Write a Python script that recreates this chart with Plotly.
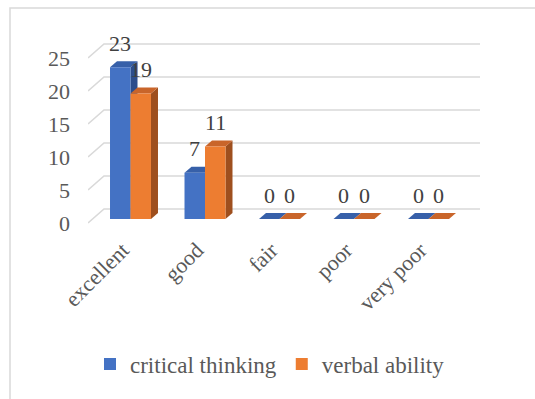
import plotly.graph_objects as go

# Survey results per rating level
categories = ["excellent", "good", "fair", "poor", "very poor"]
critical_thinking = [23, 7, 0, 0, 0]
verbal_ability = [19, 11, 0, 0, 0]
y_ticks = [0, 5, 10, 15, 20, 25]

series = [
    ("critical thinking", critical_thinking, "#4472C4", "#3760A9", "#2D4E8C"),
    ("verbal ability", verbal_ability, "#ED7D31", "#C9652A", "#9E4F1E"),
]

W, H = 535, 399
ML, MR, MT, MB = 88, 47, 30, 159
PX_PER_CAT = 74.5      # pixels per category step
PX_PER_UNIT = 6.6      # pixels per value unit
X0_PX = 130.5          # pixel position of the first category centre
Y0_PX = 219.0          # pixel position of value 0 on the bar fronts

x_range = [(ML - X0_PX) / PX_PER_CAT, (W - MR - X0_PX) / PX_PER_CAT]
y_range = [(Y0_PX - (H - MB)) / PX_PER_UNIT, (Y0_PX - MT) / PX_PER_UNIT]


def cx(px):
    return px / PX_PER_CAT


def cy(px):
    return px / PX_PER_UNIT


BAR_W = 0.275
DEPTH_X, DEPTH_Y = cx(7), cy(6)
FONT = "Liberation Serif"

fig = go.Figure()
shapes = []

# Back wall gridlines with the slanted floor edge on the left
for v in y_ticks:
    xf, yf = x_range[0], v - cy(4)
    xb, yb = x_range[0] + cx(16), v + cy(10)
    xe = x_range[1] - cx(8)
    shapes.append(dict(
        type="path", xref="x", yref="y", layer="below",
        path=f"M {xf},{yf} L {xb},{yb} L {xe},{yb}",
        line=dict(color="#D9D9D9", width=1.6),
    ))

# Bars (front faces) plus their top and side faces
for i, (name, vals, front, top, side) in enumerate(series):
    offset = (i - 0.5) * BAR_W
    xs = [k + offset for k in range(len(categories))]
    fig.add_trace(go.Bar(
        x=xs, y=vals, name=name, width=BAR_W,
        marker=dict(color=front, line=dict(width=0)),
        hoverinfo="x+y",
    ))
    for xc, v in zip(xs, vals):
        xl, xr = xc - BAR_W / 2, xc + BAR_W / 2
        shapes.append(dict(
            type="path", xref="x", yref="y", layer="between",
            path=(f"M {xr},0 L {xr},{v} L {xr + DEPTH_X},{v + DEPTH_Y} "
                  f"L {xr + DEPTH_X},{DEPTH_Y} Z"),
            fillcolor=side, line=dict(width=0),
        ))
        shapes.append(dict(
            type="path", xref="x", yref="y", layer="between",
            path=(f"M {xl},{v} L {xr},{v} L {xr + DEPTH_X},{v + DEPTH_Y} "
                  f"L {xl + DEPTH_X},{v + DEPTH_Y} Z"),
            fillcolor=top, line=dict(width=0),
        ))
        fig.add_annotation(
            x=xc, y=v, xref="x", yref="y", text=str(v), showarrow=False,
            yshift=24, yanchor="middle",
            font=dict(family=FONT, size=22, color="#404040"),
        )

# Outer chart frame
shapes.append(dict(
    type="rect", xref="paper", yref="paper", layer="below",
    x0=(10 - ML) / (W - ML - MR), x1=(W + 20 - ML) / (W - ML - MR),
    y0=((H - MB) - (H + 20)) / (H - MT - MB), y1=((H - MB) - 8) / (H - MT - MB),
    line=dict(color="#D9D9D9", width=1.5),
))

fig.update_layout(
    width=W, height=H,
    margin=dict(l=ML, r=MR, t=MT, b=MB),
    paper_bgcolor="white", plot_bgcolor="white",
    barmode="overlay",
    shapes=shapes,
    font=dict(family=FONT, size=22, color="#595959"),
    showlegend=True,
    legend=dict(
        orientation="h", x=0.455, xanchor="center",
        y=(H - MB - 364) / (H - MT - MB), yanchor="middle",
        font=dict(family=FONT, size=23, color="#595959"),
        itemwidth=30, traceorder="normal",
    ),
    xaxis=dict(
        range=x_range, tickmode="array",
        tickvals=list(range(len(categories))), ticktext=categories,
        tickangle=-45, showgrid=False, zeroline=False, showline=False,
        ticks="", fixedrange=True,
        ticklabelshift=-8, ticklabelstandoff=-8,
        tickfont=dict(family=FONT, size=22, color="#595959"),
    ),
    yaxis=dict(
        range=y_range, tickmode="array", tickvals=y_ticks,
        showgrid=False, zeroline=False, showline=False, ticks="",
        ticklabelshift=4, ticklabelstandoff=17, fixedrange=True,
        tickfont=dict(family=FONT, size=22, color="#595959"),
    ),
)

fig.write_html("out.html")
